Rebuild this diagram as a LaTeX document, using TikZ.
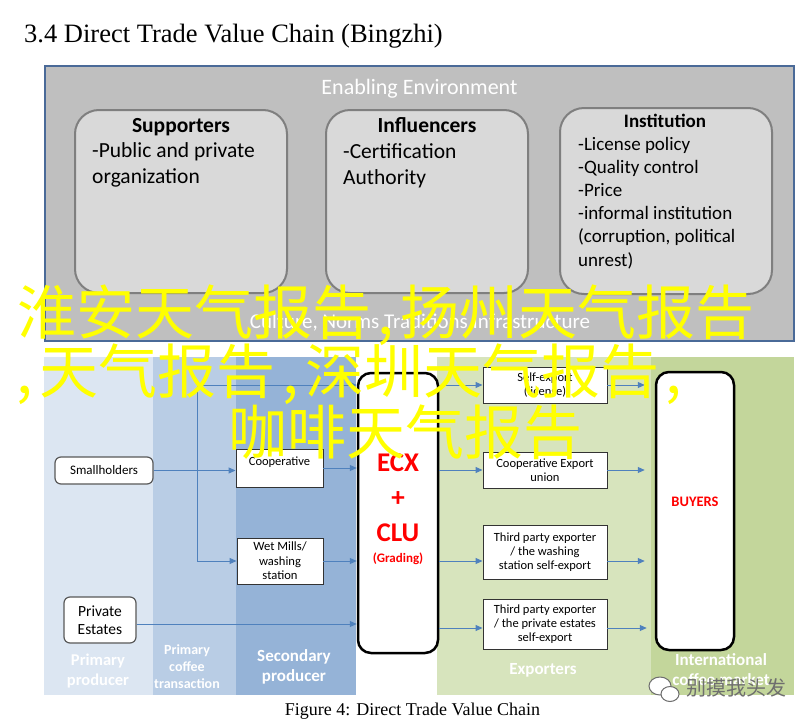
\documentclass[tikz,border=0pt]{standalone}
\usepackage{fontspec}
\setmainfont{Liberation Serif}
\setsansfont{Carlito}
\newfontfamily\cjkfont{Noto Sans CJK SC}
\usetikzlibrary{arrows.meta}

\definecolor{envgray}{HTML}{BFBFBF}
\definecolor{envedge}{HTML}{4A6A98}
\definecolor{cardgray}{HTML}{D9D9D9}
\definecolor{cardedge}{HTML}{7F7F7F}
\definecolor{bandA}{HTML}{DCE6F2}
\definecolor{bandB}{HTML}{B9CDE5}
\definecolor{bandC}{HTML}{95B3D7}
\definecolor{bandD}{HTML}{D7E4BD}
\definecolor{bandE}{HTML}{C3D69B}
\definecolor{flowblue}{HTML}{4F81BD}
\definecolor{spamyellow}{HTML}{FFFF00}
\definecolor{markgray}{HTML}{6E6E6E}

\newcommand{\fs}[2]{\fontsize{#1}{#2}\selectfont}
\newcommand{\spamcomma}{\makebox[0.5em][c]{,}}

\tikzset{
  envbox/.style={draw=envedge, fill=envgray, line width=2pt, inner sep=0pt},
  card/.style={draw=cardedge, fill=cardgray, line width=2pt, rounded corners=24pt, inner sep=0pt},
  cardhead/.style={font=\sffamily\bfseries\fs{21.5}{26}, inner sep=0pt, anchor=base},
  cardline/.style={font=\sffamily\fs{21.5}{26}, inner sep=0pt, anchor=base west},
  actor/.style={draw=black!80, fill=white, line width=0.9pt, inner sep=0pt, align=center, font=\sffamily\fs{12.5}{14}},
  pill/.style={actor, draw=black!65, line width=1.2pt, rounded corners=6pt},
  market/.style={draw=black, fill=white, line width=2.5pt, rounded corners=13pt, inner sep=0pt},
  redtag/.style={text=red, inner sep=0pt},
  stage/.style={text=white, align=center, inner sep=0pt, font=\sffamily\bfseries\fs{17}{20}},
  flow/.style={draw=flowblue, line width=1pt, -{Triangle[length=7pt,width=6pt]}},
  spam/.style={text=spamyellow, inner sep=0pt, anchor=base west, font=\cjkfont\fs{59}{59}},
}

\begin{document}
\begin{tikzpicture}[x=1pt,y=-1pt]
\useasboundingbox (0,0) rectangle (812,726);
\fill[white] (0,0) rectangle (812,726);

\node[anchor=base west, inner sep=0pt, font=\fs{26.5}{30}] (title) at (24,42) {3.4 Direct Trade Value Chain (Bingzhi)};

% enabling environment
\node[envbox, minimum width=749pt, minimum height=275pt] (env) at (419.5,203.5) {};
\node[anchor=base, inner sep=0pt, text=white, font=\sffamily\fs{22}{26}] (envtitle) at (419.5,94) {Enabling Environment};

\node[card, minimum width=212pt, minimum height=183pt] (supp) at (181,201.5) {};
\node[cardhead] (supphead) at (181,132) {Supporters};
\node[cardline] (supp1) at (92,157) {-Public and private};
\node[cardline] (supp2) at (92,183) {organization};

\node[card, minimum width=202pt, minimum height=183pt] (infl) at (427,201.5) {};
\node[cardhead] (inflhead) at (427,132) {Influencers};
\node[cardline] (infl1) at (343,158) {-Certification};
\node[cardline] (infl2) at (343,184) {Authority};

\node[card, minimum width=212pt, minimum height=186pt] (inst) at (666,201) {};
\node[cardhead, font=\sffamily\bfseries\fs{19}{23}] (insthead) at (665,127) {Institution};
\foreach \txt [count=\i] in {-License policy, -Quality control, -Price, -informal institution, {(corruption, political}, unrest)}
  \node[cardline, font=\sffamily\fs{19}{23}] (inst\i) at (578,{126.8+23.2*\i}) {\txt};

\node[anchor=base, inner sep=0pt, text=white, font=\sffamily\fs{21}{25}] (culture) at (420,328) {Culture, Norms Traditions Infrastructure};

% value chain stages
\fill[bandA] (44,357) rectangle (153,695);
\fill[bandB] (153,357) rectangle (236,695);
\fill[bandC] (236,357) rectangle (356,695);
\fill[bandD] (437,357) rectangle (651,695);
\fill[bandE] (651,357) rectangle (794,695);

\node[stage, font=\sffamily\bfseries\fs{16.5}{20}] (stprim) at (98,671) {Primary\\producer};
\node[stage, font=\sffamily\bfseries\fs{14}{17}] (sttrans) at (187,667) {Primary\\coffee\\transaction};
\node[stage] (stsec) at (294,667) {Secondary\\producer};
\node[stage] (stexp) at (543,670) {Exporters};
\node[stage] (stint) at (721,670) {International\\coffee market};

\node[pill, minimum width=98pt, minimum height=27pt, font=\sffamily\fs{13}{15}] (small) at (104,470.5) {Smallholders};
\node[pill, minimum width=72pt, minimum height=46pt, font=\sffamily\fs{15.5}{18}] (privest) at (100,620) {Private\\Estates};
\node[actor, minimum width=87pt, minimum height=38pt] (coop) at (279.5,468) {};
\node[anchor=base, inner sep=0pt, font=\sffamily\fs{12.5}{14}] (cooptext) at (279.5,465) {Cooperative};
\node[actor, minimum width=86pt, minimum height=46pt, font=\sffamily\fs{12.6}{14.5}] (wetmill) at (280,561) {Wet Mills/\\washing\\station};

\node[market, minimum width=80pt, minimum height=280pt] (ecx) at (398,513) {};
\node[redtag, font=\sffamily\bfseries\fs{27}{30}] (ecxa) at (398,463) {ECX};
\node[redtag, font=\sffamily\bfseries\fs{27}{30}] (ecxb) at (398,499) {+};
\node[redtag, font=\sffamily\bfseries\fs{27}{30}] (ecxc) at (398,533) {CLU};
\node[redtag, font=\sffamily\bfseries\fs{13}{15}] (ecxd) at (398,559) {(Grading)};

\node[actor, minimum width=124pt, minimum height=36pt] (selfexp) at (545,385) {Self-export\\(license)};
\node[actor, minimum width=124pt, minimum height=36pt, font=\sffamily\fs{12.5}{14.5}] (coopexp) at (545,470) {Cooperative Export\\union};
\node[actor, minimum width=124pt, minimum height=54pt] (tpwash) at (545,552) {Third party exporter\\/ the washing\\station self-export};
\node[actor, minimum width=124pt, minimum height=50pt] (tppriv) at (545,624) {Third party exporter\\/ the private estates\\self-export};

\node[market, minimum width=78pt, minimum height=278pt] (buyers) at (695,511) {};
\node[redtag, font=\sffamily\bfseries\fs{14.5}{17}] (buyerstext) at (695,502) {BUYERS};

% flows
\coordinate (split) at (197,470.5);
\coordinate (pe) at ([yshift=-4pt]privest.east);
\coordinate (tp) at ([yshift=-4pt]tppriv.west);
\draw[flow] (small.east) -- (small.east -| coop.west);
\draw[flow] (split) |- (ecx.west |- selfexp.west);
\draw[flow] (split) |- (wetmill.west);
\draw[flow] (coop.east) -- (coop.east -| ecx.west);
\draw[flow] (wetmill.east) -- (wetmill.east -| ecx.west);
\draw[flow] (pe) -- (pe -| ecx.west);
\draw[flow] (ecx.east |- selfexp.west) -- (selfexp.west);
\draw[flow] (ecx.east |- coopexp.west) -- (coopexp.west);
\draw[flow] (ecx.east |- wetmill.east) -- (wetmill.east -| tpwash.west);
\draw[flow] (ecx.east |- tp) -- (tp);
\draw[flow, shorten >=10pt] (selfexp.east) -- (selfexp.east -| buyers.west);
\draw[flow, shorten >=10pt] (coopexp.east) -- (coopexp.east -| buyers.west);
\draw[flow, shorten >=10pt] (tpwash.east |- wetmill.east) -- (buyers.west |- wetmill.east);
\draw[flow, shorten >=8pt] (tp -| tppriv.east) -- (tp -| buyers.west);

\node[anchor=base, inner sep=0pt, font=\fs{18}{20}] (caption) at (412.5,715) {Figure 4: Direct Trade Value Chain};

% overlay
\node[spam] (spam1) at (17,334) {淮安天气报告\spamcomma 扬州天气报告};
\node[spam] (spam2) at (10,393) {\spamcomma 天气报告\spamcomma 深圳天气报告\spamcomma};
\node[spam] (spam3) at (228,454) {咖啡天气报告};

\draw[markgray, line width=1pt, fill=white] (660,686) ellipse [x radius=11, y radius=9];
\draw[markgray, line width=1pt, fill=white] (670,694) ellipse [x radius=9, y radius=7.5];
\node[anchor=base west, inner sep=0pt, text=markgray, font=\cjkfont\fs{20}{22}] (mark) at (686,695) {别摸我头发};
\end{tikzpicture}
\end{document}
